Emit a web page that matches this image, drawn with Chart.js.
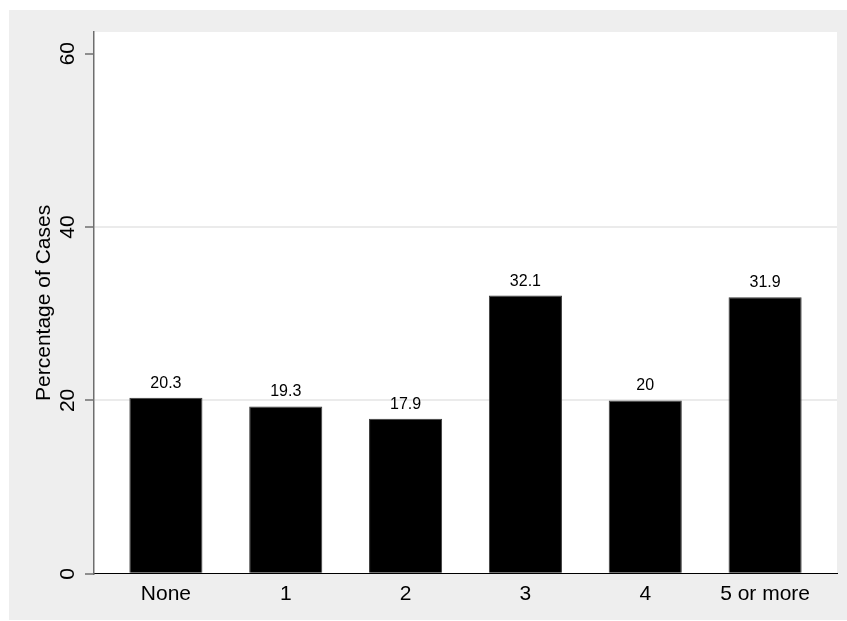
<!DOCTYPE html>
<html>
<head>
<meta charset="utf-8">
<script src="https://cdn.jsdelivr.net/npm/chart.js@4/dist/chart.umd.min.js"></script>
<style>
  html, body { margin: 0; padding: 0; background: #fff; }
  canvas { display: block; }
</style>
</head>
<body>
<canvas id="chart" width="847" height="621"></canvas>
<script>
// ── Data ──
const categories = ['None', '1', '2', '3', '4', '5 or more'];
const percentages = [20.3, 19.3, 17.9, 32.1, 20, 31.9];
const yTicks = [0, 20, 40, 60];

// ── Style ──
const FONT_FAMILY = "'Liberation Sans', Arial, Helvetica, sans-serif";
const BG_OUTER = '#eeeeee';
const GRID = '#ebebeb';
const AXIS_GRAY = '#6e6e6e';

// outer gray panel + white plot region
const panelBg = {
  id: 'panelBg',
  beforeDraw(chart) {
    const { ctx, chartArea: a } = chart;
    ctx.save();
    ctx.fillStyle = '#fff';
    ctx.fillRect(0, 0, chart.width, chart.height);
    ctx.fillStyle = BG_OUTER;
    ctx.fillRect(9, 10, chart.width - 9, 610);
    ctx.fillStyle = '#fff';
    ctx.fillRect(a.left, a.top, a.right - a.left, a.bottom - a.top);
    ctx.restore();
  },
};

// value labels above each bar
const barLabels = {
  id: 'barLabels',
  afterDatasetsDraw(chart) {
    const { ctx } = chart;
    const meta = chart.getDatasetMeta(0);
    ctx.save();
    ctx.font = '16px ' + FONT_FAMILY;
    ctx.fillStyle = '#000';
    ctx.textAlign = 'center';
    ctx.textBaseline = 'alphabetic';
    meta.data.forEach((bar, i) => {
      ctx.fillText(String(percentages[i]), bar.x, bar.y - 10);
    });
    ctx.restore();
  },
};

new Chart(document.getElementById('chart').getContext('2d'), {
  type: 'bar',
  data: {
    datasets: [{
      data: percentages.map((v, i) => ({ x: i, y: v })),
      backgroundColor: '#000',
      borderColor: '#3a3a3a',
      borderWidth: 1,
      barPercentage: 0.61,
      categoryPercentage: 1,
    }],
  },
  options: {
    responsive: false,
    animation: false,
    layout: { padding: { top: 32, right: 10, left: 0, bottom: 6 } },
    plugins: { legend: { display: false }, tooltip: { enabled: false } },
    scales: {
      x: {
        type: 'linear',
        min: -0.6,
        max: 5.6,
        offset: false,
        afterBuildTicks: s => { s.ticks = categories.map((c, i) => ({ value: i })); },
        grid: { display: false, drawTicks: false },
        border: { display: true, color: '#000', width: 1 },
        ticks: {
          color: '#000',
          padding: 8,
          maxRotation: 0,
          autoSkip: false,
          font: { family: FONT_FAMILY, size: 21 },
          callback: v => categories[v],
        },
      },
      y: {
        min: 0,
        max: 62.5,
        afterBuildTicks: s => { s.ticks = yTicks.map(v => ({ value: v })); },
        afterFit: s => { s.width = 94; },
        grid: {
          color: c => (c.tick && (c.tick.value === 20 || c.tick.value === 40)) ? GRID : 'rgba(0,0,0,0)',
          lineWidth: 2,
          drawTicks: true,
          tickLength: 9,
          tickColor: AXIS_GRAY,
          tickWidth: 1.5,
        },
        border: { display: true, color: AXIS_GRAY, width: 1.5 },
        ticks: {
          color: '#000',
          padding: 5,
          minRotation: 90,
          maxRotation: 90,
          crossAlign: 'center',
          font: { family: FONT_FAMILY, size: 21 },
        },
        title: {
          display: true,
          text: 'Percentage of Cases',
          color: '#000',
          padding: { top: 32, bottom: 0 },
          font: { family: FONT_FAMILY, size: 21 },
        },
      },
    },
  },
  plugins: [panelBg, barLabels],
});
</script>
</body>
</html>
